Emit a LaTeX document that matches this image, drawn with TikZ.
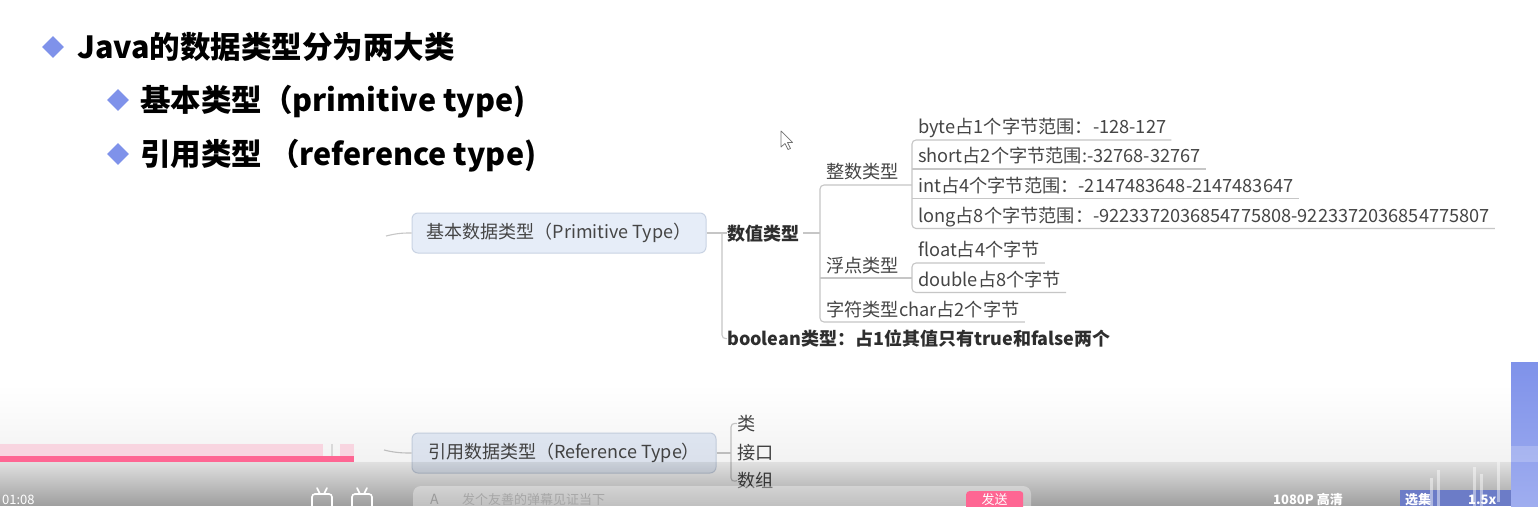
\documentclass[tikz,border=0pt]{standalone}
\usepackage{fontspec}
\setmainfont{Noto Sans CJK SC}
\usetikzlibrary{shapes.geometric,calc,fadings}
\definecolor{bulletc}{HTML}{7F92EA}
\definecolor{mmtext}{HTML}{454545}
\definecolor{linec}{HTML}{C6C6C6}
\definecolor{boxfill}{HTML}{E6EDF8}
\definecolor{boxdraw}{HTML}{C9D3E3}
\definecolor{pinkd}{HTML}{FE6693}
\definecolor{pinkl}{HTML}{F8D5E0}
\tikzfading[name=fadeA, top color=transparent!100, bottom color=transparent!95]
\tikzfading[name=fadeB, top color=transparent!88, bottom color=transparent!62]
\tikzset{
  bul/.style={diamond, fill=bulletc, inner sep=0pt, minimum size=22pt},
  ttl/.style={anchor=base west, inner sep=0pt, text=black, font=\fontsize{30.5}{32}\selectfont\bfseries},
  mm/.style={anchor=base west, inner sep=0pt, text=mmtext, font=\fontsize{18.2}{20}\selectfont},
  mmb/.style={anchor=base west, inner sep=0pt, text=black!82, font=\fontsize{18}{20}\selectfont\bfseries},
  topbox/.style={draw=boxdraw, fill=boxfill, rounded corners=6pt, line width=1pt, text=mmtext,
    minimum height=40pt, inner sep=0pt, font=\fontsize{18}{20}\selectfont},
  link/.style={draw=linec, line width=1.1pt, rounded corners=4pt},
  ovl/.style={anchor=base west, inner sep=0pt, text=white, font=\fontsize{13}{15}\selectfont\bfseries},
}
\begin{document}
\begin{tikzpicture}[x=1pt,y=-1pt]
\useasboundingbox (0,0) rectangle (1538,506);
\clip (0,0) rectangle (1538,506);
\fill[white] (0,0) rectangle (1538,506);

% title bullets
\node[bul] (b1) at (53,47) {};
\node[ttl] (t1) at (77,58.5) {Java的数据类型分为两大类};
\node[bul] (b2) at (118,100) {};
\node[ttl] (t2) at (140,111.5) {基本类型（primitive type)};
\node[bul] (b3) at (118,154) {};
\node[ttl] (t3) at (140,165.5) {引用类型 （reference type)};

% mind map: primitive
\node[topbox, minimum width=294pt] (box1) at (559,233) {基本数据类型（Primitive Type）};
\coordinate (in1) at (386,236);
\draw[link] (in1) .. controls (398,233) and (404,233) .. (box1.west);

\node[mmb] (sz) at (727,240) {数值类型};
\node[mmb] (bo) at (727,345.5) {boolean类型：占1位其值只有true和false两个};
\draw[link] (box1.east) -- (sz.base west |- box1.east);
\draw[link] (722,233) -- (722,339) -- (bo.west);

\node[mm] (zs) at (826,178.5) {整数类型};
\node[mm] (fd) at (826,272) {浮点类型};
\node[mm] (zf) at (826,316) {字符类型char占2个字节};
\draw[link] ($(sz.base east)+(4,-7)$) -- (820,233);
\draw[link] (912,185) -- (820,185) -- (820,322) -- ($(zf.base east)+(5,6)$);
\draw[link] (820,278) -- (912,278);

\node[mm] (by) at (918,133.5) {byte占1个字节范围：-128-127};
\node[mm] (sh) at (918,162.5) {short占2个字节范围:-32768-32767};
\node[mm] (it) at (918,192) {int占4个字节范围：-2147483648-2147483647};
\node[mm] (lg) at (918,222) {long占8个字节范围：-9223372036854775808-9223372036854775807};
\draw[link] ($(by.base east)+(5,6.5)$) -- (912,140) -- (912,228.5) -- ($(lg.base east)+(5,6.5)$);
\draw[link] (912,169) -- ($(sh.base east)+(5,6.5)$);
\draw[link] (912,198.5) -- ($(it.base east)+(5,6.5)$);

\node[mm] (fl) at (918,256.5) {float占4个字节};
\node[mm] (db) at (918,286) {double占8个字节};
\draw[link] ($(fl.base east)+(5,6.5)$) -- (912,263) -- (912,292.5) -- ($(db.base east)+(5,6.5)$);

% mind map: reference
\node[topbox, minimum width=304pt] (box2) at (564,453) {引用数据类型（Reference Type）};
\coordinate (in2) at (384,450);
\draw[link] (in2) .. controls (396,453) and (404,453) .. (box2.west);
\node[mm] (lei) at (737,430.5) {类};
\node[mm] (jk) at (737,459.5) {接口};
\node[mm] (sg) at (737,487.5) {数组};
\draw[link] (box2.east) -- (731,453);
\draw[link] (lei.west) -- (731,423) -- (731,482) -- (sg.west);

% mouse cursor
\draw[fill=white, draw=black!55, line width=0.7pt, line join=round]
  (781,131) -- (781,147) -- (785,143.5) -- (788,149.5) -- (790.5,148.5) -- (787.5,142.5) -- (792.5,142.5) -- cycle;

% video player overlay
\fill[black, path fading=fadeA] (0,385) rectangle (1538,462);
\fill[black, path fading=fadeB] (0,462) rectangle (1538,506);
\fill[pinkl] (0,444) rectangle (323,455.5);
\fill[pinkl] (340,444) rectangle (354,455.5);
\fill[white!85!black] (331,444) rectangle (332.5,455.5);
\fill[pinkd] (0,455.5) rectangle (354,461.5);

\node[ovl, font=\fontsize{13}{15}\selectfont] (time) at (2,504) {01:08};
\foreach \xx/\nm in {312/tv1, 352/tv2}{
  \draw[white, line width=1.6pt, rounded corners=3pt] (\xx,494) rectangle ++(20,16);
  \draw[white, line width=1.6pt, line cap=round] (\xx+5,488) -- (\xx+8,494) (\xx+15,488) -- (\xx+12,494);
}
\fill[white, fill opacity=0.35, rounded corners=8pt] (413,486) rectangle (1031,530);
\node[ovl, text=white!60!black, font=\fontsize{14}{16}\selectfont] (aa) at (430,504) {A};
\node[ovl, text=black!35, font=\fontsize{13}{15}\selectfont] (ph) at (462,504) {发个友善的弹幕见证当下};
\node[fill=pinkd, rounded corners=3pt, minimum width=57pt, minimum height=30pt, inner sep=0pt, anchor=north west] (send) at (966,491) {};
\node[ovl, font=\fontsize{13}{15}\selectfont, anchor=base] (sendt) at (994.5,504) {发送};

\fill[bulletc!85!black] (1400,490) rectangle (1511,506);
\foreach \bx/\by in {1430/478, 1437/470, 1473/467, 1480/474, 1497/462}{
  \fill[white, fill opacity=0.45] (\bx,\by) rectangle ++(3,40);
}
\shade[top color=bulletc!100!black, bottom color=bulletc!75!white] (1511,362) rectangle (1538,506);
\fill[white, fill opacity=0.2] (1511,446) rectangle (1538,462);
\node[ovl] (q) at (1273,504) {1080P 高清};
\node[ovl] (xj) at (1405,504) {选集};
\node[ovl] (sp) at (1468,504) {1.5x};
\end{tikzpicture}
\end{document}
